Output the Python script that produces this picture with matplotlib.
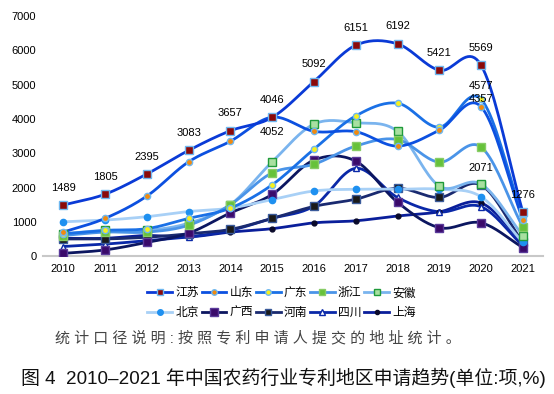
import numpy as np
import matplotlib
matplotlib.use("Agg")
import matplotlib.pyplot as plt
from matplotlib.lines import Line2D

plt.rcParams['font.family'] = ['Liberation Sans', 'Noto Sans CJK SC', 'DejaVu Sans']

years = [2010, 2011, 2012, 2013, 2014, 2015, 2016, 2017, 2018, 2019, 2020, 2021]

jiangsu = [1489, 1805, 2395, 3083, 3657, 4046, 5092, 6151, 6192, 5421, 5569, 1276]
shandong = [700, 1100, 1750, 2750, 3350, 4052, 3640, 3630, 3210, 3670, 4357, 1050]
guangdong = [650, 750, 800, 1100, 1400, 2080, 3120, 4090, 4460, 3760, 4577, 1130]
zhejiang = [600, 700, 700, 900, 1500, 2430, 2680, 3210, 3400, 2740, 3180, 840]
anhui = [650, 750, 750, 960, 1500, 2750, 3850, 3890, 3640, 2040, 2100, 600]
beijing = [1000, 1050, 1150, 1300, 1400, 1650, 1900, 1950, 1950, 1950, 1730, 400]
guangxi = [80, 180, 400, 670, 1260, 1800, 2800, 2770, 1570, 830, 970, 250]
henan = [500, 500, 550, 650, 780, 1100, 1450, 1660, 1980, 1710, 2071, 400]
sichuan = [280, 350, 450, 560, 750, 1100, 1460, 2560, 1710, 1290, 1440, 300]
shanghai = [520, 520, 600, 560, 700, 800, 970, 1030, 1170, 1290, 1550, 400]

note = "统计口径说明:按照专利申请人提交的地址统计。"
caption = "图 4  2010–2021 年中国农药行业专利地区申请趋势(单位:项,%)"

# name, values, line colour, marker, marker face, marker edge, marker size
series = [
    ("江苏", jiangsu, "#0a3ad6", "s", "#8b0a0a", "#6fb8f0", 5.5),
    ("山东", shandong, "#0c50e0", "o", "#f08a10", "#6fb8f0", 4.5),
    ("广东", guangdong, "#1a70e6", "o", "#f5f020", "#6fb8f0", 4.5),
    ("浙江", zhejiang, "#4a94e8", "s", "#66c23a", "#88cc66", 5.5),
    ("安徽", anhui, "#7ab4ee", "s", "#a8e0a0", "#1f9a3a", 5.5),
    ("北京", beijing, "#a8d0f6", "o", "#1e90f0", "#1e90f0", 4.5),
    ("广西", guangxi, "#0c1660", "s", "#3a0a6a", "#5a3a9a", 6),
    ("河南", henan, "#1a2a70", "s", "#1a1a1a", "#3a5a9a", 5.5),
    ("四川", sichuan, "#0a28a8", "^", "#ffffff", "#0a28a8", 5),
    ("上海", shanghai, "#0a1e9a", "o", "#0a0a2a", "#0a0a2a", 3.5),
]


def smooth(xs, ys, n=20):
    # Catmull-Rom curve through the points, like Excel smoothed lines
    px = np.array(xs, dtype=float)
    py = np.array(ys, dtype=float)
    px = np.concatenate([[2 * px[0] - px[1]], px, [2 * px[-1] - px[-2]]])
    py = np.concatenate([[2 * py[0] - py[1]], py, [2 * py[-1] - py[-2]]])
    outx, outy = [], []
    t = np.linspace(0, 1, n)
    for i in range(1, len(px) - 2):
        for arr, out in ((px, outx), (py, outy)):
            p0, p1, p2, p3 = arr[i - 1], arr[i], arr[i + 1], arr[i + 2]
            seg = 0.5 * ((2 * p1) + (-p0 + p2) * t + (2 * p0 - 5 * p1 + 4 * p2 - p3) * t ** 2
                         + (-p0 + 3 * p1 - 3 * p2 + p3) * t ** 3)
            out.extend(seg)
    return outx, outy


fig = plt.figure(figsize=(5.54, 3.94), dpi=100)
ax = fig.add_axes([0.078, 0.350, 0.902, 0.609])

x = np.arange(len(years))
for name, vals, lc, mk, mf, me, ms in reversed(series):
    sx, sy = smooth(x, vals)
    ax.plot(sx, sy, color=lc, lw=2.0, solid_capstyle="round", zorder=2)
    ax.plot(x, vals, ls="none", marker=mk, mfc=mf, mec=me, ms=ms, mew=1.0, zorder=3)

handles = {}
for name, vals, lc, mk, mf, me, ms in series:
    handles[name] = Line2D([0], [0], color=lc, lw=2.0, marker=mk, mfc=mf, mec=me, ms=ms - 0.5, mew=1.0)

for i, v in enumerate(jiangsu):
    ax.annotate(str(v), (x[i], v), xytext=(0, 9), textcoords="offset points",
                ha="center", va="bottom", fontsize=8)
ax.annotate(str(shandong[5]), (x[5], shandong[5]), xytext=(0, -7), textcoords="offset points",
            ha="center", va="top", fontsize=8)
ax.annotate(str(guangdong[10]), (x[10], guangdong[10]), xytext=(0, 6), textcoords="offset points",
            ha="center", va="bottom", fontsize=8)
ax.annotate(str(shandong[10]), (x[10], shandong[10]), xytext=(0, 2), textcoords="offset points",
            ha="center", va="bottom", fontsize=8)
ax.annotate(str(henan[10]), (x[10], henan[10]), xytext=(0, 9), textcoords="offset points",
            ha="center", va="bottom", fontsize=8)

ax.set_xlim(-0.48, len(years) - 0.52)
ax.set_ylim(0, 7000)
ax.set_yticks(range(0, 7001, 1000))
ax.set_xticks(x)
ax.set_xticklabels([str(y) for y in years])
ax.tick_params(axis="both", length=0, labelsize=8, pad=6)
ax.tick_params(axis="y", pad=5)
for s in ["top", "right", "left"]:
    ax.spines[s].set_visible(False)
ax.spines["bottom"].set_color("#c8c8c8")
ax.spines["bottom"].set_linewidth(1.5)

# legend fills columns first, so interleave the two rows
names = [s[0] for s in series]
order = []
for c in range(5):
    order += [names[c], names[c + 5]]
fig.legend([handles[n] for n in order], order, loc="center", bbox_to_anchor=(0.508, 0.231),
           ncol=5, frameon=False, fontsize=8.5, handlelength=2.1, handletextpad=0.25,
           columnspacing=0.25, labelspacing=0.62)

fig.text(0.099, 0.143, " ".join(note), fontsize=10.8,
         color="#444444", va="center", ha="left")
fig.text(0.038, 0.040, caption, fontsize=13.6,
         color="#111111", va="center", ha="left")

fig.savefig("out.png", dpi=100)
